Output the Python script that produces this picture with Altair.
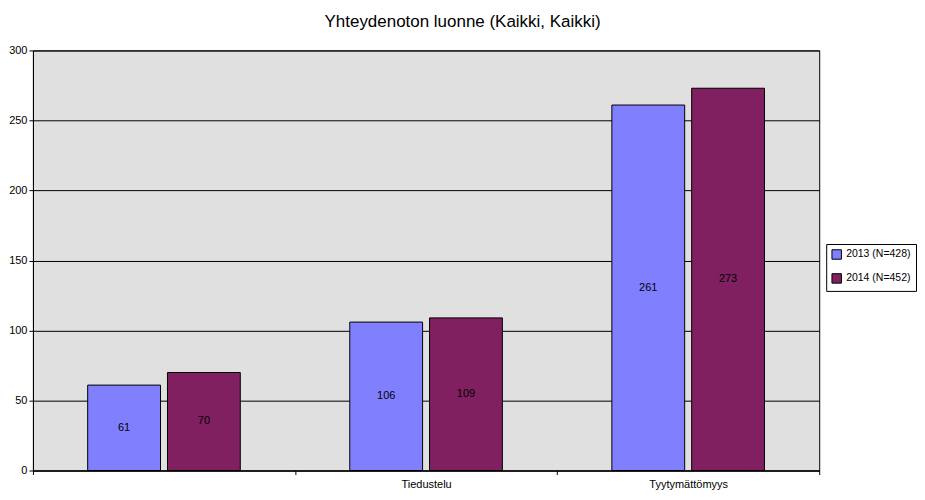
import altair as alt
import pandas as pd

categories = [" ", "Tiedustelu", "Tyytymättömyys"]
series = ["2013 (N=428)", "2014 (N=452)"]
values_2013 = [61, 106, 261]
values_2014 = [70, 109, 273]
colors = ["#8080FF", "#802060"]

rows = []
for c, v in zip(categories, values_2013):
    rows.append({"cat": c, "series": series[0], "value": v})
for c, v in zip(categories, values_2014):
    rows.append({"cat": c, "series": series[1], "value": v})
df = pd.DataFrame(rows)

x = alt.X("cat:N", sort=categories, title=None,
          scale=alt.Scale(paddingInner=0, paddingOuter=0),
          axis=alt.Axis(labelAngle=0, tickBand="extent", domainColor="black",
                        tickColor="black", tickSize=4, labelPadding=4,
                        labelColor="black", labelFont="Liberation Sans", labelFontSize=11))
xo = alt.XOffset("series:N", sort=series,
                 scale=alt.Scale(paddingInner=0.0875, paddingOuter=0.686))

base = alt.Chart(df).encode(x=x, xOffset=xo)

bars = base.mark_bar(stroke="black", strokeWidth=1).encode(
    y=alt.Y("value:Q", title=None,
            scale=alt.Scale(domain=[0, 300]),
            axis=alt.Axis(values=[0, 50, 100, 150, 200, 250, 300], grid=True,
                          gridColor="black", gridOpacity=1, domainColor="black",
                          tickColor="black", tickSize=4, labelPadding=2,
                          labelColor="black", labelFont="Liberation Sans",
                          labelFontSize=11)),
    color=alt.Color("series:N", sort=series,
                    scale=alt.Scale(domain=series, range=colors),
                    legend=alt.Legend(title=None, orient="none", legendX=795, legendY=194,
                                      strokeColor="black", padding=5,
                                      symbolType="square", symbolSize=90,
                                      symbolStrokeColor="black", symbolStrokeWidth=1,
                                      labelFont="Liberation Sans", labelFontSize=10.5,
                                      labelOffset=4,
                                      labelColor="black", rowPadding=9)),
)

labels = base.mark_text(font="Liberation Sans", fontSize=11, color="black",
                        baseline="middle").encode(
    y=alt.Y("half:Q"),
    text=alt.Text("value:Q"),
).transform_calculate(half="datum.value / 2")

chart = alt.layer(bars, labels).properties(
    width=788, height=421,
    padding={"left": 0, "top": 5, "right": 0, "bottom": 0},
    title=alt.TitleParams("Yhteydenoton luonne (Kaikki, Kaikki)", font="Liberation Sans",
                          fontSize=17, fontWeight="normal", color="black", offset=13,
                          frame="bounds", anchor="middle"),
    background="white",
).configure_view(fill="#E0E0E0", stroke="black", strokeWidth=1)

chart.save("out.html", embed_options={"renderer": "svg", "actions": False})
